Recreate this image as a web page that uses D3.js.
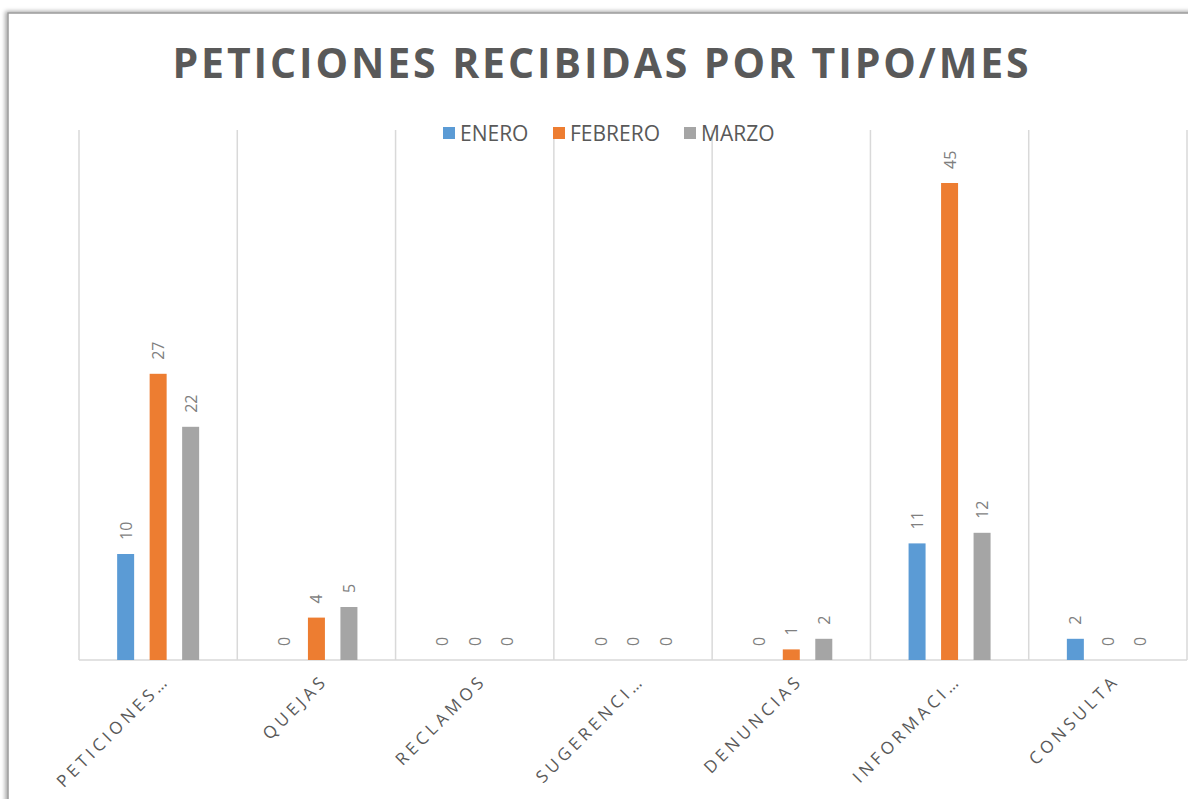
<!DOCTYPE html>
<html><head><meta charset="utf-8">
<script src="https://cdn.jsdelivr.net/npm/d3@7"></script>
<style>html,body{margin:0;padding:0;background:#fff;overflow:hidden}</style>
</head><body>
<svg id="c" width="1188" height="799"></svg>
<script>
const categories = ["PETICIONES…","QUEJAS","RECLAMOS","SUGERENCI…","DENUNCIAS","INFORMACI…","CONSULTA"];
const seriesNames = ["ENERO","FEBRERO","MARZO"];
const enero   = [10,0,0,0,0,11,2];
const febrero = [27,4,0,0,1,45,0];
const marzo   = [22,5,0,0,2,12,0];
const colors  = ["#5b9bd5","#ed7d31","#a5a5a5"];
const title = "PETICIONES RECIBIDAS POR TIPO/MES";

const values = [enero, febrero, marzo];
const svg = d3.select("#c");
const defs = svg.append("defs");
const f = defs.append("filter").attr("id","sh").attr("x","-5%").attr("y","-5%").attr("width","110%").attr("height","110%");
f.append("feDropShadow").attr("dx",-2).attr("dy",-1).attr("stdDeviation",2).attr("flood-color","#000").attr("flood-opacity",0.35);

svg.append("rect").attr("x",8).attr("y",13).attr("width",1300).attr("height",900)
  .attr("fill","#fff").attr("stroke","#9a9a9a").attr("stroke-width",1.5).attr("filter","url(#sh)");

const L = 79, R = 1187, T = 130, B = 660;
const x0 = d3.scaleBand().domain(categories).range([L,R]).padding(0);
const y = d3.scaleLinear().domain([0,50]).range([B,T]);
const x1 = d3.scaleBand().domain(seriesNames).range([-48.75,48.75]).paddingInner(0.477).paddingOuter(0.2385);

// gridlines (vertical category separators)
const bounds = categories.map(c => x0(c)).concat([R]);
svg.append("g").selectAll("line").data(bounds).join("line")
  .attr("x1",d=>d).attr("x2",d=>d).attr("y1",T).attr("y2",B)
  .attr("stroke","#d9d9d9").attr("stroke-width",1.5);
svg.append("line").attr("x1",L).attr("x2",R).attr("y1",B).attr("y2",B).attr("stroke","#d9d9d9").attr("stroke-width",1.5);

// bars
const data = [];
categories.forEach((c,i)=>seriesNames.forEach((s,j)=>data.push({c,s,j,v:values[j][i]})));
const cx = c => x0(c)+x0.bandwidth()/2;
svg.append("g").selectAll("rect").data(data).join("rect")
  .attr("x",d=>cx(d.c)+x1(d.s)).attr("width",x1.bandwidth())
  .attr("y",d=>y(d.v)).attr("height",d=>B-y(d.v)).attr("fill",d=>colors[d.j]);

// data labels
svg.append("g").selectAll("text").data(data).join("text")
  .attr("transform",d=>`translate(${cx(d.c)+x1(d.s)+x1.bandwidth()/2},${y(d.v)-14}) rotate(-90)`)
  .attr("dominant-baseline","central").attr("text-anchor","start")
  .attr("font-family","'Open Sans', sans-serif").attr("font-size",16).attr("fill","#7f7f7f")
  .text(d=>d.v);

// x axis labels
svg.append("g").selectAll("text").data(categories).join("text")
  .attr("transform",c=>`translate(${cx(c)+8},${677}) rotate(-45)`)
  .attr("text-anchor","end").attr("dominant-baseline","central")
  .attr("font-family","'Open Sans', sans-serif").attr("font-size",17).attr("letter-spacing","4px").attr("fill","#595959")
  .text(c=>c);

// title
svg.append("text").attr("x",602).attr("y",78).attr("text-anchor","middle")
  .attr("font-family","'Open Sans', sans-serif").attr("font-weight","bold").attr("font-size",41)
  .attr("letter-spacing","2.9px").attr("fill","#595959").text(title);

// legend
const lg = svg.append("g");
const lx = [443,553,684];
seriesNames.forEach((s,j)=>{
  lg.append("rect").attr("x",lx[j]).attr("y",127).attr("width",12).attr("height",12).attr("fill",colors[j]);
  lg.append("text").attr("x",lx[j]+17).attr("y",133).attr("dominant-baseline","central")
    .attr("font-family","'Open Sans', sans-serif").attr("font-size",21).attr("fill","#595959").text(s);
});
</script>
</body></html>
